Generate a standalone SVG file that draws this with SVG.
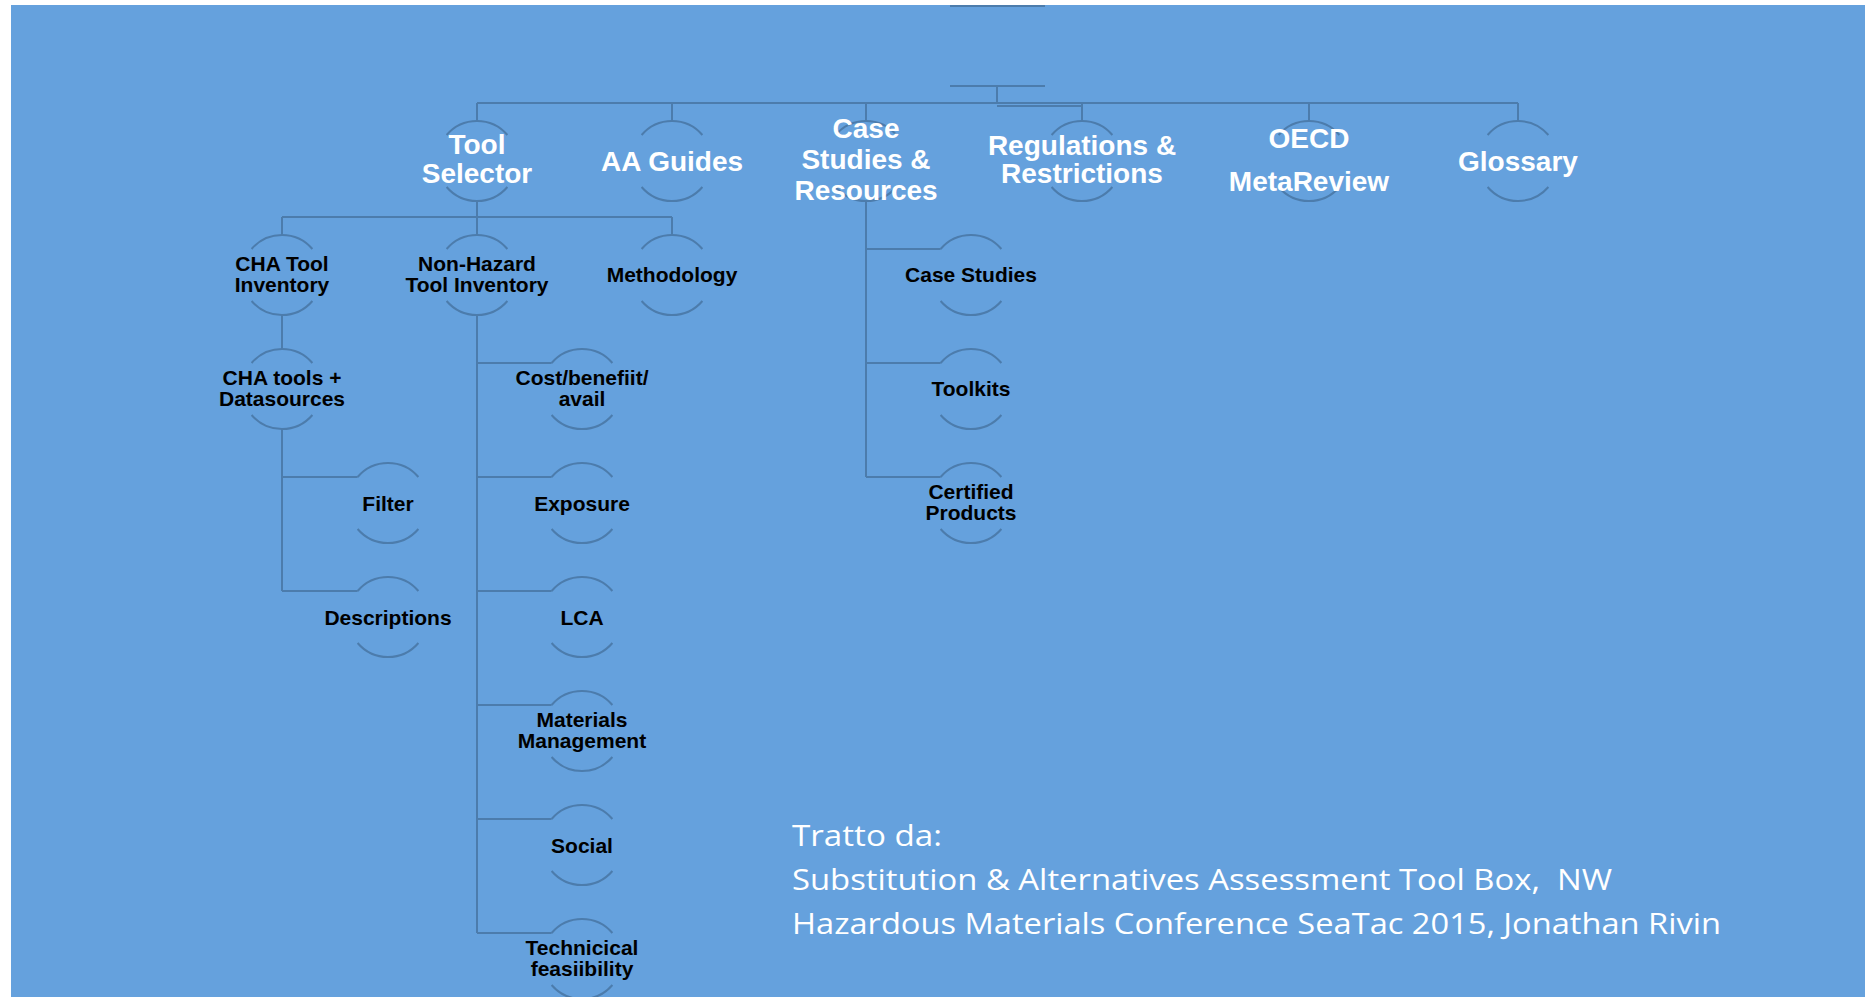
<svg xmlns="http://www.w3.org/2000/svg" xmlns:xlink="http://www.w3.org/1999/xlink" width="1865" height="997" viewBox="0 0 1865 997">
<style>
.bg{fill:#65a1dd}
.ln{fill:none;stroke:#4c7cac;stroke-width:2}
.arc{fill:none;stroke:#4c7cac;stroke-width:2}
.t1{font-family:"Liberation Sans",Arial,sans-serif;font-weight:bold;font-size:28px;fill:#ffffff;text-anchor:middle}
.t2{font-family:"Liberation Sans",Arial,sans-serif;font-weight:bold;font-size:21px;fill:#000000;text-anchor:middle}
.ft{font-family:"Open Sans","Liberation Sans",sans-serif;font-weight:400;font-size:30px;fill:#ffffff}
</style>
<defs>
<path id="arcs" class="arc" d="M-30.4,-26 A40,40 0 0 1 30.4,-26 M-30.4,26 A40,40 0 0 0 30.4,26"/>
</defs>
<rect x="0" y="0" width="1865" height="997" fill="#ffffff"/>
<rect class="bg" x="11" y="5" width="1854" height="992"/>

<g id="connectors" class="ln">
<path d="M997,86 V103"/>
<path d="M477,103 H1518"/>
<path d="M997,106 H1082"/>
<path d="M477,103 V121 M672,103 V121 M866,103 V121 M1082,103 V121 M1309,103 V121 M1518,103 V121"/>
<path d="M477,201 V217 M282,217 H672 M282,217 V235 M477,217 V235 M672,217 V235"/>
<path d="M282,315 V349"/>
<path d="M282,429 V591 M282,477 H357.6 M282,591 H357.6"/>
<path d="M477,315 V933 M477,363 H551.6 M477,477 H551.6 M477,591 H551.6 M477,705 H551.6 M477,819 H551.6 M477,933 H551.6"/>
<path d="M866,201 V477 M866,249 H940.6 M866,363 H940.6 M866,477 H940.6"/>
</g>

<g id="root" class="ln">
<path d="M950,6 H1045 M950,86 H1045"/>
</g>

<g id="tool-selector"><use xlink:href="#arcs" x="477" y="161"/><text class="t1" x="477" y="154">Tool</text><text class="t1" x="477" y="183">Selector</text></g>
<g id="aa-guides"><use xlink:href="#arcs" x="672" y="161"/><text class="t1" x="672" y="171">AA Guides</text></g>
<g id="case-studies-resources"><use xlink:href="#arcs" x="866" y="161"/><text class="t1" x="866" y="138">Case</text><text class="t1" x="866" y="169">Studies &amp;</text><text class="t1" x="866" y="200">Resources</text></g>
<g id="regulations"><use xlink:href="#arcs" x="1082" y="161"/><text class="t1" x="1082" y="155">Regulations &amp;</text><text class="t1" x="1082" y="183">Restrictions</text></g>
<g id="oecd"><use xlink:href="#arcs" x="1309" y="161"/><text class="t1" x="1309" y="148">OECD</text><text class="t1" x="1309" y="191">MetaReview</text></g>
<g id="glossary"><use xlink:href="#arcs" x="1518" y="161"/><text class="t1" x="1518" y="171">Glossary</text></g>

<g id="cha-tool-inventory"><use xlink:href="#arcs" x="282" y="275"/><text class="t2" x="282" y="271">CHA Tool</text><text class="t2" x="282" y="292">Inventory</text></g>
<g id="non-hazard"><use xlink:href="#arcs" x="477" y="275"/><text class="t2" x="477" y="271">Non-Hazard</text><text class="t2" x="477" y="292">Tool Inventory</text></g>
<g id="methodology"><use xlink:href="#arcs" x="672" y="275"/><text class="t2" x="672" y="282">Methodology</text></g>
<g id="case-studies"><use xlink:href="#arcs" x="971" y="275"/><text class="t2" x="971" y="282">Case Studies</text></g>

<g id="cha-tools"><use xlink:href="#arcs" x="282" y="389"/><text class="t2" x="282" y="385">CHA tools +</text><text class="t2" x="282" y="406">Datasources</text></g>
<g id="filter"><use xlink:href="#arcs" x="388" y="503"/><text class="t2" x="388" y="511">Filter</text></g>
<g id="descriptions"><use xlink:href="#arcs" x="388" y="617"/><text class="t2" x="388" y="625">Descriptions</text></g>

<g id="cost"><use xlink:href="#arcs" x="582" y="389"/><text class="t2" x="582" y="385">Cost/benefiit/</text><text class="t2" x="582" y="406">avail</text></g>
<g id="exposure"><use xlink:href="#arcs" x="582" y="503"/><text class="t2" x="582" y="511">Exposure</text></g>
<g id="lca"><use xlink:href="#arcs" x="582" y="617"/><text class="t2" x="582" y="625">LCA</text></g>
<g id="materials"><use xlink:href="#arcs" x="582" y="731"/><text class="t2" x="582" y="727">Materials</text><text class="t2" x="582" y="748">Management</text></g>
<g id="social"><use xlink:href="#arcs" x="582" y="845"/><text class="t2" x="582" y="853">Social</text></g>
<g id="technical"><use xlink:href="#arcs" x="582" y="959"/><text class="t2" x="582" y="955">Technicical</text><text class="t2" x="582" y="976">feasiibility</text></g>

<g id="toolkits"><use xlink:href="#arcs" x="971" y="389"/><text class="t2" x="971" y="396">Toolkits</text></g>
<g id="certified"><use xlink:href="#arcs" x="971" y="503"/><text class="t2" x="971" y="499">Certified</text><text class="t2" x="971" y="520">Products</text></g>

<g id="source-note">
<text class="ft" x="792" y="846" textLength="150" lengthAdjust="spacingAndGlyphs">Tratto da:</text>
<text class="ft" x="792" y="890" xml:space="preserve" textLength="820" lengthAdjust="spacingAndGlyphs">Substitution &amp; Alternatives Assessment Tool Box,  NW</text>
<text class="ft" x="792" y="934" textLength="929" lengthAdjust="spacingAndGlyphs">Hazardous Materials Conference SeaTac 2015, Jonathan Rivin</text>
</g>
</svg>
